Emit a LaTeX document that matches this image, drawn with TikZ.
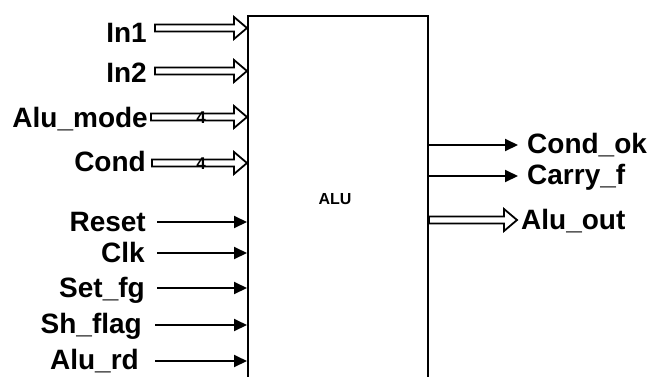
\documentclass[tikz,border=0pt]{standalone}
\usepackage{fontspec}
\setmainfont{Liberation Sans}
\usetikzlibrary{arrows.meta,calc}
\begin{document}
\begin{tikzpicture}[x=1pt,y=-1pt,
  lbl/.style={font=\fontsize{28}{30}\selectfont\bfseries, inner sep=0pt},
  lblL/.style={lbl, anchor=base east},
  lblR/.style={lbl, anchor=base west},
  sig/.style={line width=2pt, -{Triangle[length=13pt,width=12pt]}},
  bus/.style={line width=1.8pt, line join=miter, to path={
    let \p1=(\tikztostart), \p2=(\tikztotarget) in
    (\x1,\y1+3.5pt) -- (\x2-13pt,\y1+3.5pt) -- (\x2-13pt,\y1+11pt) -- (\x2,\y1)
    -- (\x2-13pt,\y1-11pt) -- (\x2-13pt,\y1-3.5pt) -- (\x1,\y1-3.5pt) -- cycle}},
  width4/.style={font=\fontsize{17}{17}\selectfont\bfseries, inner sep=0pt}
]
\useasboundingbox[fill=white] (0,0) rectangle (653,376);
% ALU block (bottom runs off the picture)
\node[draw, line width=2pt, anchor=north west, minimum width=180pt,
      minimum height=400pt, inner sep=0pt] (alu) at (247,15) {};
\node[font=\fontsize{16}{18}\selectfont\bfseries, inner sep=0pt] (alulbl) at (335,199) {ALU};

% left labels
\node[lblL] (in1)  at (147,42)  {In1};
\node[lblL] (in2)  at (147,82)  {In2};
\node[lblL] (mode) at (148,127) {Alu\_mode};
\node[lblL] (cond) at (146,171) {Cond};
\node[lblL] (rst)  at (146,231) {Reset};
\node[lblL] (clk)  at (145,262) {Clk};
\node[lblL] (setf) at (145,297) {Set\_fg};
\node[lblL] (shf)  at (142,333) {Sh\_flag};
\node[lblL] (rd)   at (139,369) {Alu\_rd};

% arrow start points
\coordinate (s1) at (155,28);
\coordinate (s2) at (155,71);
\coordinate (s3) at (151,117);
\coordinate (s4) at (152,163);
\coordinate (s5) at (157,222);
\coordinate (s6) at (157,253);
\coordinate (s7) at (157,288);
\coordinate (s8) at (155,325);
\coordinate (s9) at (155,361);

\draw[bus] (s1) to (alu.west |- s1);
\draw[bus] (s2) to (alu.west |- s2);
\draw[bus] (s3) to (alu.west |- s3);
\draw[bus] (s4) to (alu.west |- s4);
\node[width4] (w1) at (201,118) {4};
\node[width4] (w2) at (201,164) {4};

\draw[sig] (s5) -- (alu.west |- s5);
\draw[sig] (s6) -- (alu.west |- s6);
\draw[sig] (s7) -- (alu.west |- s7);
\draw[sig] (s8) -- (alu.west |- s8);
\draw[sig] (s9) -- (alu.west |- s9);

% outputs
\coordinate (o1) at (518,145);
\coordinate (o2) at (518,176);
\coordinate (o3) at (517,220);
\draw[sig] (alu.east |- o1) -- (o1);
\draw[sig] (alu.east |- o2) -- (o2);
\draw[bus] (alu.east |- o3) to (o3);

\node[lblR] (cok)  at (527,153) {Cond\_ok};
\node[lblR] (cf)   at (527,184) {Carry\_f};
\node[lblR] (aout) at (521,229) {Alu\_out};
\end{tikzpicture}
\end{document}
